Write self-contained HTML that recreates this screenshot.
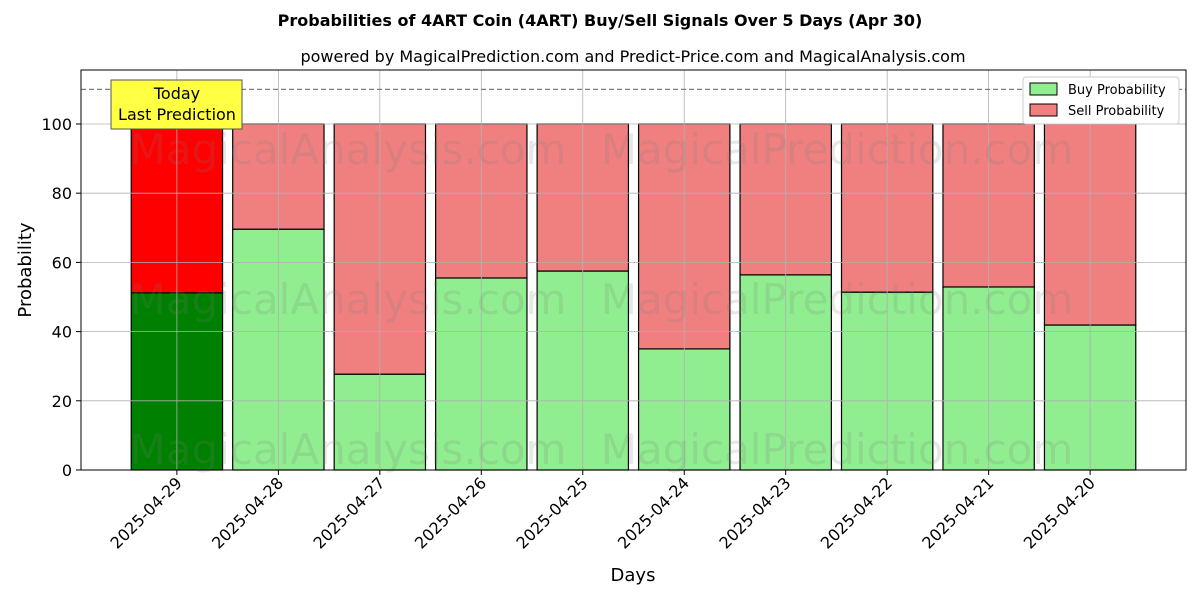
<!DOCTYPE html>
<html><head><meta charset="utf-8"><style>
body{margin:0;background:#fff;}
svg text{font-family:"DejaVu Sans","Liberation Sans",sans-serif;}
</style></head><body>
<svg id="chart" width="1200" height="600" xmlns="http://www.w3.org/2000/svg">
<rect width="1200" height="600" fill="#fff"/>
</svg>
<script>
const categories=["2025-04-29","2025-04-28","2025-04-27","2025-04-26","2025-04-25","2025-04-24","2025-04-23","2025-04-22","2025-04-21","2025-04-20"];
const buyValues=[51.2,69.6,27.7,55.5,57.5,35.0,56.4,51.4,52.9,41.9];
const yTicks=[0,20,40,60,80,100];
const L=81,R=1186,T=70,B=470;
const xmin=-0.945,xmax=9.945,ymin=0,ymax=115.6;
const xs=i=>L+(i-xmin)/(xmax-xmin)*(R-L);
const ys=v=>B-(v-ymin)/(ymax-ymin)*(B-T);
const NS="http://www.w3.org/2000/svg";
const svg=document.getElementById('chart');
function mk(tag,attrs,parent){const e=document.createElementNS(NS,tag);for(const k in attrs)e.setAttribute(k,attrs[k]);(parent||svg).appendChild(e);return e;}
let t=mk('text',{x:600,y:26,'text-anchor':'middle','font-size':16,'font-weight':'bold'});t.textContent="Probabilities of 4ART Coin (4ART) Buy/Sell Signals Over 5 Days (Apr 30)";


t=mk('text',{x:633,y:62,'text-anchor':'middle','font-size':16});t.textContent="powered by MagicalPrediction.com and Predict-Price.com and MagicalAnalysis.com";


const bw=0.9*(xs(1)-xs(0));
categories.forEach((c,i)=>{
 const x=xs(i)-bw/2, b=buyValues[i];
 const buy=mk('rect',{x:x,y:ys(b),width:bw,height:ys(0)-ys(b),fill:i==0?'#008000':'#90ee90',stroke:'#000','stroke-width':1.2});
 
 
 const sell=mk('rect',{x:x,y:ys(100),width:bw,height:ys(b)-ys(100),fill:i==0?'#ff0000':'#f08080',stroke:'#000','stroke-width':1.2});
 
 
 const tx=xs(i);
 mk('line',{x1:tx,x2:tx,y1:B,y2:B+5,stroke:'#000'});
 const lab=mk('text',{x:0,y:0,'font-size':16,'text-anchor':'end',transform:`translate(${tx+6},${B+14}) rotate(-45)`});lab.textContent=c;
 
 
});
yTicks.forEach(v=>{
 mk('line',{x1:L,x2:R,y1:ys(v),y2:ys(v),stroke:'#b0b0b0','stroke-width':0.8});
 mk('line',{x1:L-5,x2:L,y1:ys(v),y2:ys(v),stroke:'#000'});
 const l=mk('text',{x:L-9,y:ys(v)+6,'font-size':16,'text-anchor':'end'});l.textContent=v;
 
 
});
categories.forEach((c,i)=>mk('line',{x1:xs(i),x2:xs(i),y1:T,y2:B,stroke:'#b0b0b0','stroke-width':0.8}));
[[348,150,"MagicalAnalysis.com"],[837,150,"MagicalPrediction.com"],[348,300,"MagicalAnalysis.com"],[837,300,"MagicalPrediction.com"],[348,450,"MagicalAnalysis.com"],[837,450,"MagicalPrediction.com"]].forEach(w=>{
 const e=mk('text',{x:w[0],y:w[1]+14,'font-size':42,'text-anchor':'middle',fill:'rgba(120,120,120,0.18)'});e.textContent=w[2];
 
 
});
mk('line',{x1:L,x2:R,y1:ys(110),y2:ys(110),stroke:'#808080','stroke-dasharray':'5,3','stroke-width':1.2});
mk('rect',{x:L,y:T,width:R-L,height:B-T,fill:'none',stroke:'#000','stroke-width':1});
const ann=mk('rect',{x:111,y:80,width:131,height:49,fill:'#ffff44',stroke:'#555'});


t=mk('text',{x:177,y:99,'font-size':16,'text-anchor':'middle'});t.textContent="Today";
t=mk('text',{x:177,y:120,'font-size':16,'text-anchor':'middle'});t.textContent="Last Prediction";
t=mk('text',{x:633,y:581,'font-size':18,'text-anchor':'middle'});t.textContent="Days";


t=mk('text',{x:0,y:0,'font-size':18,'text-anchor':'middle',transform:'translate(31,270) rotate(-90)'});t.textContent="Probability";


const lg=mk('g',{});


mk('rect',{x:1023,y:77,width:156,height:47,fill:'#fff',stroke:'#ccc',rx:3},lg);
mk('rect',{x:1030,y:83,width:27,height:12,fill:'#90ee90',stroke:'#000'},lg);
mk('rect',{x:1030,y:104,width:27,height:12,fill:'#f08080',stroke:'#000'},lg);
t=mk('text',{x:1068,y:94,'font-size':13},lg);t.textContent="Buy Probability";
t=mk('text',{x:1068,y:115,'font-size':13},lg);t.textContent="Sell Probability";
</script>
</body></html>
